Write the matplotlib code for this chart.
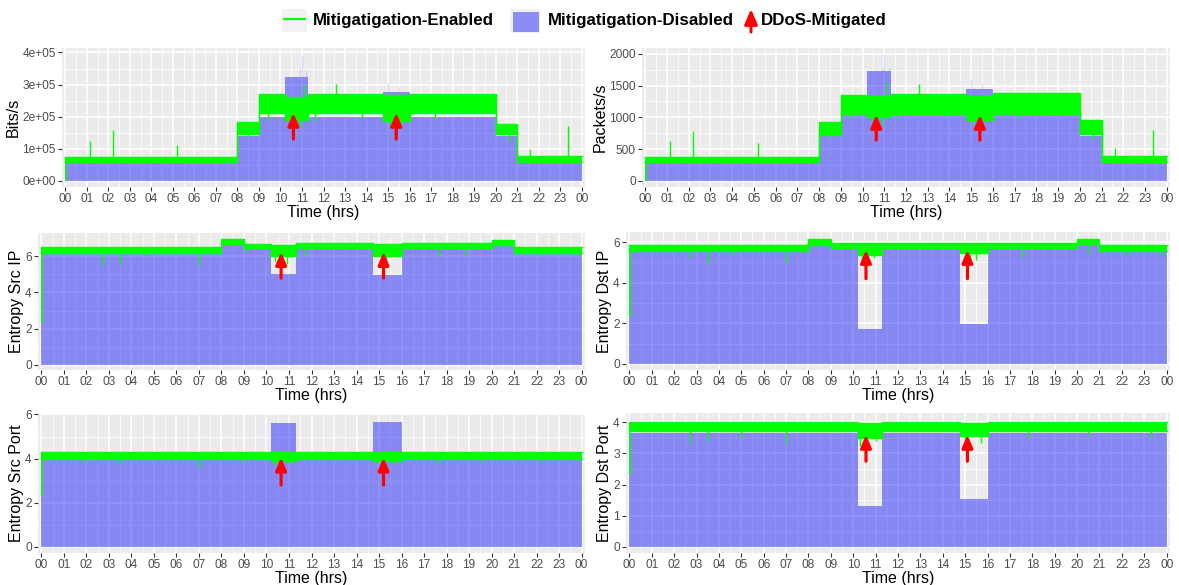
import matplotlib
matplotlib.use('Agg')
from matplotlib import pyplot as plt
from matplotlib.patches import Rectangle, FancyArrowPatch
from matplotlib.lines import Line2D
import numpy as np

plt.rcParams['font.family'] = ['Liberation Sans', 'DejaVu Sans']

# segment edges (hours): night, ramp-up, day, attack 1, day, attack 2, day, ramp-down, night
hours = [0, 8, 9, 10.2, 11.3, 14.75, 16, 20, 21, 24]
hour_labels = ['%02d' % h for h in range(24)] + ['00']

# Bits/s
bits_lo = [60e3, 145e3, 210e3, 190e3, 212e3, 185e3, 212e3, 145e3, 60e3]
bits_hi = [75e3, 182e3, 270e3, 262e3, 272e3, 266e3, 272e3, 176e3, 76e3]
bits_dis = [55e3, 138e3, 200e3, 325e3, 200e3, 278e3, 200e3, 138e3, 55e3]
bits_spikes = [(1.15, 125e3), (2.2, 158e3), (5.2, 112e3), (11.1, 300e3), (12.6, 302e3),
               (21.6, 100e3), (23.35, 170e3)]
bits_dips = [(8.5, 135e3), (9.4, 190e3), (10.5, 172e3), (10.9, 168e3), (11.6, 185e3),
             (13.8, 195e3), (15.1, 168e3), (15.6, 178e3), (17.2, 190e3), (20.6, 125e3)]
bits_haze = [(10.9, 350e3), (11.0, 392e3), (11.2, 345e3), (15.0, 305e3), (15.5, 290e3)]

# Packets/s
pk_lo = [300, 720, 1050, 1000, 1060, 960, 1060, 740, 300]
pk_hi = [380, 920, 1350, 1330, 1370, 1340, 1380, 960, 385]
pk_dis = [290, 700, 1030, 1730, 1030, 1450, 1030, 700, 290]
pk_spikes = [(1.15, 620), (2.2, 780), (5.2, 590), (11.1, 1550), (12.6, 1520),
             (21.6, 520), (23.35, 800)]
pk_dips = [(8.5, 700), (9.4, 980), (10.5, 900), (10.9, 880), (11.6, 960),
           (13.8, 1000), (15.1, 880), (15.6, 920), (17.2, 980), (20.6, 640)]
pk_haze = [(10.9, 1800), (11.0, 1990), (11.2, 1780), (15.0, 1600), (15.5, 1520)]

# Entropy Src IP
sip_lo = [6.2, 6.7, 6.45, 6.0, 6.45, 6.05, 6.45, 6.65, 6.2]
sip_hi = [6.5, 6.95, 6.7, 6.65, 6.72, 6.68, 6.72, 6.9, 6.5]
sip_dis = [6.15, 6.65, 6.4, 5.05, 6.4, 4.95, 6.4, 6.6, 6.15]
sip_dips = [(2.7, 5.55), (3.5, 5.6), (4.6, 6.0), (7.0, 5.5), (9.1, 6.25), (10.4, 5.75),
            (10.9, 5.6), (11.7, 6.1), (15.3, 5.8), (15.9, 6.0), (17.6, 6.0), (18.8, 6.1),
            (22.3, 6.05), (23.7, 6.0)]

# Entropy Dst IP
dip_lo = [5.55, 5.85, 5.7, 5.35, 5.7, 5.45, 5.7, 5.9, 5.55]
dip_hi = [5.85, 6.15, 5.97, 5.95, 5.97, 5.95, 5.98, 6.15, 5.85]
dip_dis = [5.5, 5.8, 5.65, 1.7, 5.65, 1.95, 5.65, 5.85, 5.5]
dip_dips = [(2.7, 5.2), (3.5, 4.9), (4.6, 5.35), (7.0, 5.0), (10.4, 5.1), (10.95, 5.2),
            (15.2, 5.0), (15.5, 5.1), (17.6, 5.25), (20.5, 5.4), (22.2, 5.35), (23.8, 5.35)]

# Entropy Src Port
sp_lo = [3.98, 3.98, 3.98, 3.9, 3.98, 3.9, 3.98, 3.98, 3.98]
sp_hi = [4.3, 4.3, 4.3, 4.3, 4.3, 4.3, 4.32, 4.3, 4.3]
sp_dis = [3.95, 3.95, 3.95, 5.62, 3.95, 5.68, 3.95, 3.95, 3.95]
sp_dips = [(1.9, 3.85), (3.5, 3.75), (7.0, 3.6), (8.9, 3.85), (10.4, 3.7), (11.1, 3.8),
           (15.1, 3.6), (15.6, 3.75), (17.6, 3.75), (19.5, 3.85), (22.3, 3.85)]

# Entropy Dst Port
dp_lo = [3.72, 3.72, 3.72, 3.5, 3.72, 3.55, 3.72, 3.72, 3.72]
dp_hi = [4.0, 4.0, 4.0, 3.98, 4.0, 3.98, 4.02, 4.02, 4.0]
dp_dis = [3.65, 3.65, 3.65, 1.32, 3.65, 1.53, 3.65, 3.65, 3.65]
dp_dips = [(2.7, 3.35), (3.5, 3.4), (5.0, 3.5), (7.0, 3.3), (10.3, 3.25), (11.0, 3.4),
           (15.0, 3.3), (15.7, 3.35), (17.8, 3.5), (20.5, 3.55), (23.3, 3.5)]

W, H = 1179, 585
fig = plt.figure(figsize=(W / 100, H / 100), dpi=100)

ARROW = '-|>,head_length=0.75,head_width=0.32'


def box(l, r, t, b):
    return [l / W, 1 - b / H, (r - l) / W, (b - t) / H]


def seg(vals, t):
    i = min(int(np.searchsorted(hours, t, side='right')) - 1, len(vals) - 1)
    return vals[i]


def draw(ax, lo, hi, dis, start, spikes, dips, haze, arrows, ylim, yticks, yticklabels, ylabel):
    ax.set_facecolor('#EBEBEB')
    for s in ax.spines.values():
        s.set_visible(False)

    # mitigation disabled: filled area
    ax.fill_between(hours, 0, dis + [dis[-1]], step='post', color='blue', alpha=0.42, lw=0, zorder=2)
    for t, v in haze:
        ax.vlines(t, seg(dis, t), v, color='blue', alpha=0.12, lw=1.0, zorder=2)

    # mitigation enabled: noisy green line, drawn as its band
    ax.fill_between(hours, lo + [lo[-1]], hi + [hi[-1]], step='post', color='#00FF00', lw=0, zorder=3)
    ax.step(hours, lo + [lo[-1]], where='post', color='#00FF00', lw=1.0, zorder=3)
    ax.step(hours, hi + [hi[-1]], where='post', color='#00FF00', lw=1.0, zorder=3)
    ax.vlines(0.03, start, lo[0], color='#00FF00', lw=1.2, zorder=3)
    for t, v in spikes:
        ax.vlines(t, seg(hi, t), v, color='#00FF00', lw=1.0, zorder=3)
    for t, v in dips:
        ax.vlines(t, v, seg(lo, t), color='#00FF00', lw=1.0, zorder=3)

    # mitigated attacks
    for x, y0, y1 in arrows:
        ax.annotate('', xy=(x, y1), xytext=(x, y0), zorder=5,
                    arrowprops=dict(arrowstyle=ARROW, color='red', lw=2.3,
                                    shrinkA=0, shrinkB=0))

    ax.set_xlim(-0.15, 24.15)
    ax.set_ylim(*ylim)
    ax.set_xticks(range(25))
    ax.set_xticklabels(hour_labels)
    ax.set_xticks(np.arange(0.5, 24, 1), minor=True)
    ax.set_yticks(yticks)
    ax.set_yticklabels(yticklabels)
    ax.set_yticks([(a + b) / 2 for a, b in zip(yticks[:-1], yticks[1:])], minor=True)
    ax.set_axisbelow(True)
    ax.grid(which='major', color='white', lw=1.1)
    ax.grid(which='minor', color='white', lw=0.55)
    ax.tick_params(which='major', length=3, width=0.8, color='#333333',
                   labelcolor='#4D4D4D', labelsize=8.6, pad=1.5)
    ax.tick_params(which='minor', length=0)
    ax.set_xlabel('Time (hrs)', fontsize=11.5, labelpad=0)
    ax.set_ylabel(ylabel, fontsize=11.5, labelpad=1)


ax1 = fig.add_axes(box(62, 585, 48, 187))
draw(ax1, bits_lo, bits_hi, bits_dis, 0, bits_spikes, bits_dips, bits_haze,
     [(10.6, 130e3, 212e3), (15.38, 130e3, 212e3)],
     (-19.5e3, 414e3), [0, 1e5, 2e5, 3e5, 4e5],
     ['0e+00', '1e+05', '2e+05', '3e+05', '4e+05'], 'Bits/s')

ax2 = fig.add_axes(box(642, 1170, 48, 187))
draw(ax2, pk_lo, pk_hi, pk_dis, 0, pk_spikes, pk_dips, pk_haze,
     [(10.63, 640, 1040), (15.4, 640, 1040)],
     (-98, 2092), [0, 500, 1000, 1500, 2000],
     ['0', '500', '1000', '1500', '2000'], 'Packets/s')

ax3 = fig.add_axes(box(38, 585, 233, 370))
draw(ax3, sip_lo, sip_hi, sip_dis, 2.3, [], sip_dips, [],
     [(10.65, 4.8, 6.25), (15.2, 4.8, 6.25)],
     (-0.3, 7.3), [0, 2, 4, 6], ['0', '2', '4', '6'], 'Entropy Src IP')

ax4 = fig.add_axes(box(626, 1170, 232, 370))
draw(ax4, dip_lo, dip_hi, dip_dis, 2.3, [], dip_dips, [],
     [(10.57, 4.2, 5.62), (15.1, 4.2, 5.62)],
     (-0.3, 6.5), [0, 2, 4, 6], ['0', '2', '4', '6'], 'Entropy Dst IP')

ax5 = fig.add_axes(box(38, 585, 414, 553))
draw(ax5, sp_lo, sp_hi, sp_dis, 2.3, [], sp_dips, [],
     [(10.65, 2.8, 4.05), (15.2, 2.8, 4.05)],
     (-0.28, 6.02), [0, 2, 4, 6], ['0', '2', '4', '6'], 'Entropy Src Port')

ax6 = fig.add_axes(box(626, 1170, 413, 553))
draw(ax6, dp_lo, dp_hi, dp_dis, 2.3, [], dp_dips, [],
     [(10.57, 2.75, 3.6), (15.1, 2.75, 3.6)],
     (-0.2, 4.3), [0, 1, 2, 3, 4], ['0', '1', '2', '3', '4'], 'Entropy Dst Port')


# legend across the top
def fx(px):
    return px / W


def fy(py):
    return 1 - py / H


fig.add_artist(Rectangle((fx(282), fy(32)), 25 / W, 23 / H, transform=fig.transFigure,
                         facecolor='#F2F2F2', edgecolor='none'))
fig.add_artist(Line2D([fx(284), fx(305)], [fy(19), fy(19)], transform=fig.transFigure,
                      color='#00FF00', lw=1.5))
fig.text(fx(313), fy(20), 'Mitigatigation-Enabled', fontsize=12.2, fontweight='bold',
         va='center', ha='left')

fig.add_artist(Rectangle((fx(510), fy(33)), 30 / W, 24 / H, transform=fig.transFigure,
                         facecolor='#F2F2F2', edgecolor='none'))
fig.add_artist(Rectangle((fx(513), fy(32)), 26 / W, 20 / H, transform=fig.transFigure,
                         facecolor='blue', alpha=0.42, edgecolor='none'))
fig.text(fx(548), fy(20), 'Mitigatigation-Disabled', fontsize=12.2, fontweight='bold',
         va='center', ha='left')

fig.add_artist(FancyArrowPatch((fx(751), fy(32)), (fx(751), fy(9)), transform=fig.transFigure,
                               arrowstyle=ARROW, mutation_scale=12, color='red', lw=2.2,
                               shrinkA=0, shrinkB=0))
fig.text(fx(761), fy(20), 'DDoS-Mitigated', fontsize=12.2, fontweight='bold',
         va='center', ha='left')

plt.savefig('out.png', dpi=100)
